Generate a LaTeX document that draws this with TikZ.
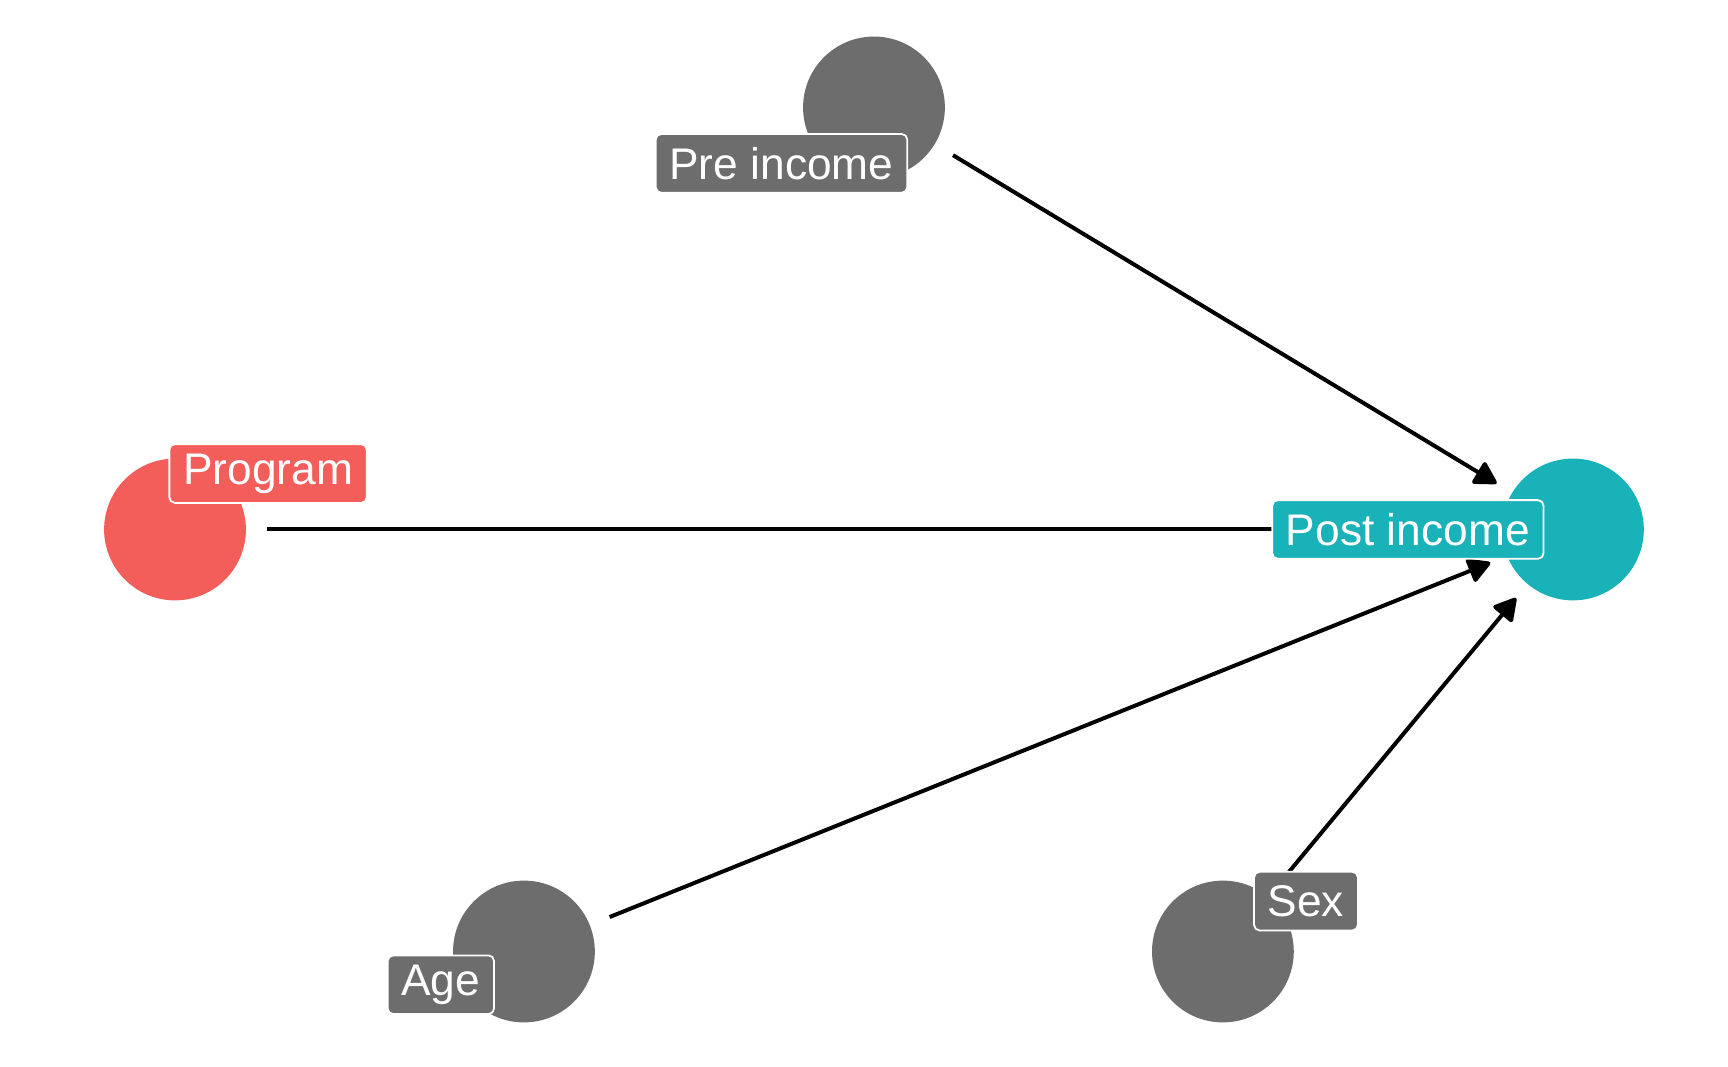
\documentclass[tikz,border=0pt]{standalone}
\usepackage{fontspec}
\setmainfont{Liberation Sans}
\usetikzlibrary{arrows.meta}
\definecolor{ggray}{HTML}{6D6D6D}
\definecolor{gred}{HTML}{F35E5A}
\definecolor{gteal}{HTML}{19B2B8}
\begin{document}
\begin{tikzpicture}[x=0.5pt,y=-0.5pt,
  dot/.style={circle,fill=#1,draw=none,minimum size=64pt,inner sep=0pt},
  lbl/.style={rectangle,rounded corners=2.5pt,fill=#1,draw=white,line width=0.8pt,
    text=white,font=\fontsize{20}{22}\selectfont,inner xsep=6.2pt,inner ysep=0pt,
    minimum height=26.5pt},
  edge/.style={line width=1.8pt,draw=black,shorten <=9.5pt,shorten >=8pt,
    -{Triangle[length=11pt,width=12pt,round]}}]
\useasboundingbox (0,0) rectangle (1560,963);
\node[dot=ggray] (pre) at (789,97) {};
\node[dot=gred] (prog) at (158,478) {};
\node[dot=gteal] (post) at (1420,478) {};
\node[dot=ggray] (age) at (473,859) {};
\node[dot=ggray] (sex) at (1104,859) {};
\draw[edge] (pre) -- (post);
\draw[edge] (prog) -- (post);
\draw[edge] (age) -- (post);
\draw[edge] (sex) -- (post);
\node[lbl=ggray] (lpre) at (705.5,147.5) {Pre income};
\node[lbl=gred] (lprog) at (242,427.5) {Program};
\node[lbl=gteal] (lpost) at (1271,478) {Post income};
\node[lbl=ggray] (lage) at (398,889) {Age};
\node[lbl=ggray] (lsex) at (1179,813.5) {Sex};
\end{tikzpicture}
\end{document}
